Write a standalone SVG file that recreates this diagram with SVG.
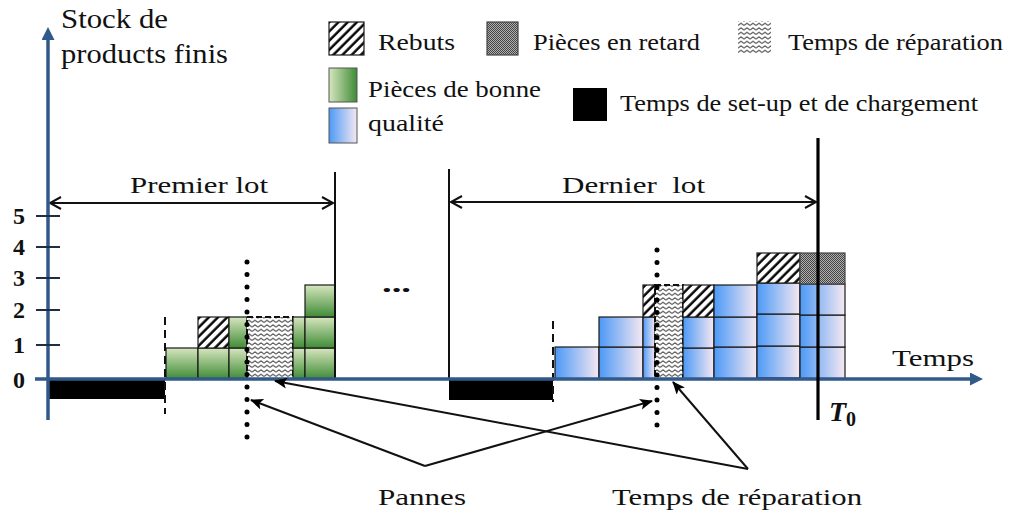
<svg xmlns="http://www.w3.org/2000/svg" width="1009" height="519" viewBox="0 0 1009 519">
  <style>
    text { font-family: "Liberation Serif", "Times New Roman", serif; fill: #111; }
    .lbl { font-size: 23px; }
    .num { font-size: 24px; font-weight: bold; }
    .axis { stroke: #31598a; stroke-width: 3.5; fill: none; }
    .tick { stroke: #1e2f45; stroke-width: 2; }
    .cell { stroke: #1a1a1a; stroke-width: 1.2; }
    .green { fill: url(#gGreen); }
    .blue { fill: url(#gBlue); }
    .hatch { fill: url(#pHatch); stroke: #1a1a1a; stroke-width: 1.2; }
    .late { fill: url(#pLate); stroke: #444; stroke-width: 1.2; }
    .repair { fill: url(#pWave); stroke: #111; stroke-width: 2; stroke-dasharray: 6 3; }
    .setup { fill: #000; }
    .dash { stroke: #111; stroke-width: 2; stroke-dasharray: 8 5; }
    .dots { stroke: #000; stroke-width: 5; stroke-linecap: round; stroke-dasharray: 0 12.5; }
    .bound { stroke: #111; stroke-width: 2; }
    .dim { stroke: #111; stroke-width: 2; fill: none; marker-start: url(#open); marker-end: url(#open); }
    .lead { stroke: #111; stroke-width: 2; fill: none; marker-end: url(#head); }
  </style>
  <defs>
    <linearGradient id="gGreen" x1="0" y1="0" x2="0" y2="1">
      <stop offset="0" stop-color="#d6e6be"/>
      <stop offset="1" stop-color="#3f8b36"/>
    </linearGradient>
    <linearGradient id="gGreenH" x1="0" y1="0" x2="1" y2="0">
      <stop offset="0" stop-color="#d6e6be"/>
      <stop offset="1" stop-color="#3f8b36"/>
    </linearGradient>
    <linearGradient id="gBlue" x1="0" y1="0" x2="1" y2="0">
      <stop offset="0" stop-color="#4c99f6"/>
      <stop offset="1" stop-color="#f6e8f1"/>
    </linearGradient>
    <pattern id="pHatch" patternUnits="userSpaceOnUse" width="6.5" height="6.5" patternTransform="rotate(45)">
      <rect width="6.5" height="6.5" fill="#fff"/>
      <line x1="1.5" y1="0" x2="1.5" y2="6.5" stroke="#000" stroke-width="2.4"/>
    </pattern>
    <pattern id="pLate" patternUnits="userSpaceOnUse" width="2" height="2">
      <rect width="2" height="2" fill="#b0b0b0"/>
      <rect width="1" height="1" fill="#444"/>
      <rect x="1" y="1" width="1" height="1" fill="#444"/>
    </pattern>
    <pattern id="pWave" patternUnits="userSpaceOnUse" width="6" height="4.5">
      <rect width="6" height="4.5" fill="#fff"/>
      <path d="M0 3 L3 0.8 L6 3" fill="none" stroke="#222" stroke-width="1"/>
    </pattern>
    <marker id="axisHead" markerUnits="userSpaceOnUse" markerWidth="16" markerHeight="16" refX="2" refY="6.5" orient="auto">
      <path d="M0 0 L13 6.5 L0 13 z" fill="#31598a"/>
    </marker>
    <marker id="head" markerUnits="userSpaceOnUse" markerWidth="16" markerHeight="14" refX="12" refY="5.5" orient="auto">
      <path d="M0 0 L13 5.5 L0 11 L3 5.5 z" fill="#000"/>
    </marker>
    <marker id="open" markerUnits="userSpaceOnUse" markerWidth="16" markerHeight="16" refX="12" refY="7" orient="auto-start-reverse">
      <path d="M1 1 L12 7 L1 13" fill="none" stroke="#111" stroke-width="2"/>
    </marker>
  </defs>

  <!-- legend -->
  <g id="legend">
    <rect x="329" y="22" width="35" height="33" class="hatch"/>
    <text class="lbl" x="378" y="50" textLength="77" lengthAdjust="spacingAndGlyphs">Rebuts</text>
    <rect x="487" y="22" width="31" height="33" class="late"/>
    <text class="lbl" x="533" y="50" textLength="167" lengthAdjust="spacingAndGlyphs">Pièces en retard</text>
    <rect x="738" y="21" width="33" height="33" fill="url(#pWave)"/>
    <text class="lbl" x="788" y="50" textLength="215" lengthAdjust="spacingAndGlyphs">Temps de réparation</text>
    <rect x="329" y="68" width="28" height="34" fill="url(#gGreenH)" stroke="#555" stroke-width="1"/>
    <text class="lbl" x="368" y="97" textLength="173" lengthAdjust="spacingAndGlyphs">Pièces de bonne</text>
    <rect x="329" y="108" width="28" height="35" fill="url(#gBlue)" stroke="#555" stroke-width="1"/>
    <text class="lbl" x="368" y="131" textLength="76" lengthAdjust="spacingAndGlyphs">qualité</text>
    <rect x="573" y="88" width="34" height="33" class="setup"/>
    <text class="lbl" x="620" y="111" textLength="358" lengthAdjust="spacingAndGlyphs">Temps de set-up et de chargement</text>
  </g>

  <!-- first batch -->
  <g id="first-batch">
    <rect x="48" y="380" width="117" height="19" class="setup"/>
    <rect x="166" y="348" width="32" height="31" class="cell green"/>
    <rect x="198" y="348" width="31" height="31" class="cell green"/>
    <rect x="198" y="317" width="31" height="31" class="hatch"/>
    <rect x="229" y="348" width="18" height="31" class="cell green"/>
    <rect x="229" y="317" width="18" height="31" class="cell green"/>
    <rect x="247" y="317" width="46" height="62" class="repair"/>
    <rect x="293" y="348" width="12" height="31" class="cell green"/>
    <rect x="293" y="317" width="12" height="31" class="cell green"/>
    <rect x="305" y="348" width="30" height="31" class="cell green"/>
    <rect x="305" y="317" width="30" height="31" class="cell green"/>
    <rect x="305" y="285" width="30" height="32" class="cell green"/>
    <line x1="165" y1="317" x2="165" y2="414" class="dash"/>
    <line x1="247" y1="262" x2="247" y2="440" class="dots"/>
    <line x1="335" y1="172" x2="335" y2="379" class="bound"/>
    <line x1="50" y1="203" x2="333" y2="203" class="dim"/>
    <text class="lbl" x="130" y="193" textLength="138" lengthAdjust="spacingAndGlyphs">Premier lot</text>
  </g>

  <text id="ellipsis" x="382" y="292" font-size="26" font-weight="bold" textLength="29" lengthAdjust="spacingAndGlyphs">...</text>

  <!-- last batch -->
  <g id="last-batch">
    <rect x="449" y="380" width="104" height="20" class="setup"/>
    <rect x="555" y="347" width="44" height="32" class="cell blue"/>
    <rect x="599" y="347" width="44" height="32" class="cell blue"/>
    <rect x="599" y="317" width="44" height="30" class="cell blue"/>
    <rect x="643" y="347" width="12" height="32" class="cell blue"/>
    <rect x="643" y="317" width="12" height="30" class="cell blue"/>
    <rect x="643" y="285" width="12" height="32" class="hatch"/>
    <rect x="655" y="285" width="28" height="94" class="repair"/>
    <rect x="683" y="348" width="31" height="31" class="cell blue"/>
    <rect x="683" y="317" width="31" height="31" class="cell blue"/>
    <rect x="683" y="285" width="31" height="32" class="hatch"/>
    <rect x="714" y="347" width="43" height="32" class="cell blue"/>
    <rect x="714" y="317" width="43" height="30" class="cell blue"/>
    <rect x="714" y="285" width="43" height="32" class="cell blue"/>
    <rect x="757" y="346" width="43" height="32" class="cell blue"/>
    <rect x="757" y="314" width="43" height="32" class="cell blue"/>
    <rect x="757" y="283" width="43" height="31" class="cell blue"/>
    <rect x="757" y="253" width="43" height="30" class="hatch"/>
    <rect x="800" y="347" width="45" height="32" class="cell blue"/>
    <rect x="800" y="315" width="45" height="32" class="cell blue"/>
    <rect x="800" y="284" width="45" height="31" class="cell blue"/>
    <rect x="800" y="253" width="45" height="31" class="late"/>
    <line x1="553" y1="321" x2="553" y2="402" class="dash"/>
    <line x1="657" y1="250" x2="657" y2="430" class="dots"/>
    <line x1="449" y1="169" x2="449" y2="379" class="bound"/>
    <line x1="451" y1="202" x2="816" y2="202" class="dim"/>
    <text class="lbl" x="562" y="193" textLength="143" lengthAdjust="spacingAndGlyphs" xml:space="preserve">Dernier  lot</text>
  </g>

  <!-- axes -->
  <g id="axes">
    <line x1="48" y1="420" x2="48" y2="38" class="axis" marker-end="url(#axisHead)"/>
    <line x1="35" y1="379" x2="972" y2="379" class="axis" marker-end="url(#axisHead)"/>
    <line x1="36" y1="216" x2="60" y2="216" class="tick"/>
    <line x1="36" y1="247" x2="60" y2="247" class="tick"/>
    <line x1="36" y1="278" x2="60" y2="278" class="tick"/>
    <line x1="36" y1="310" x2="60" y2="310" class="tick"/>
    <line x1="36" y1="345" x2="60" y2="345" class="tick"/>
    <text class="num" x="19" y="224" text-anchor="middle">5</text>
    <text class="num" x="19" y="255" text-anchor="middle">4</text>
    <text class="num" x="19" y="286" text-anchor="middle">3</text>
    <text class="num" x="19" y="318" text-anchor="middle">2</text>
    <text class="num" x="19" y="353" text-anchor="middle">1</text>
    <text class="num" x="19" y="388" text-anchor="middle">0</text>
    <text x="61" y="28" font-size="28" textLength="107" lengthAdjust="spacingAndGlyphs">Stock de</text>
    <text x="61" y="63" font-size="28" textLength="167" lengthAdjust="spacingAndGlyphs">products finis</text>
    <text x="892" y="366" font-size="24" textLength="82" lengthAdjust="spacingAndGlyphs">Temps</text>
  </g>

  <!-- horizon T0 -->
  <g id="horizon">
    <line x1="818" y1="138" x2="818" y2="420" stroke="#000" stroke-width="3.2"/>
    <text x="829" y="421" font-size="28" font-weight="bold" font-style="italic">T<tspan font-size="20" font-style="normal" dy="5">0</tspan></text>
  </g>

  <!-- annotations -->
  <g id="connectors">
    <line x1="425" y1="466" x2="251" y2="400" class="lead"/>
    <line x1="425" y1="466" x2="652" y2="401" class="lead"/>
    <line x1="748" y1="469" x2="275" y2="381" class="lead"/>
    <line x1="748" y1="469" x2="673" y2="382" class="lead"/>
  </g>
  <g id="label-pannes">
    <text x="378" y="505" font-size="24" textLength="88" lengthAdjust="spacingAndGlyphs">Pannes</text>
  </g>
  <g id="label-repair">
    <text x="612" y="505" font-size="24" textLength="250" lengthAdjust="spacingAndGlyphs">Temps de réparation</text>
  </g>
</svg>
